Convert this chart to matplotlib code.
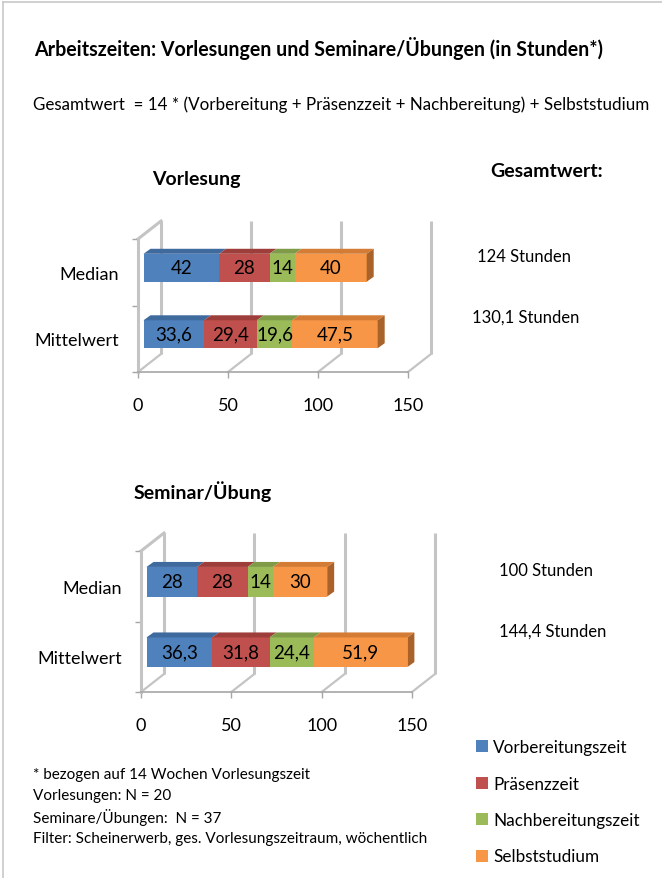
import numpy as np
import matplotlib.pyplot as plt
from matplotlib.patches import Polygon, Patch
from matplotlib.lines import Line2D

plt.rcParams['font.family'] = ['Lato', 'DejaVu Sans']

W, H, DPI = 662, 879, 100

kategorien = ['Mittelwert', 'Median']
teile = ['Vorbereitungszeit', 'Präsenzzeit', 'Nachbereitungszeit', 'Selbststudium']
farben = ['#4F81BD', '#C0504D', '#9BBB59', '#F79646']
farben_oben = ['#3E6A9E', '#9E3E3B', '#7F9B48', '#D47C35']
farben_seite = ['#345A87', '#853431', '#6B843D', '#A9622A']

vorlesung_mittelwert = [33.6, 29.4, 19.6, 47.5]
vorlesung_median = [42, 28, 14, 40]
seminar_mittelwert = [36.3, 31.8, 24.4, 51.9]
seminar_median = [28, 28, 14, 30]
x_ticks = [0, 50, 100, 150]

WAND = '#C4C4C4'


def fmt(v):
    return '{:g}'.format(round(v, 1)).replace('.', ',')


def px_axes(fig, left, top, right, bottom):
    return fig.add_axes([left / W, 1 - bottom / H, (right - left) / W, (bottom - top) / H])


def ftext(fig, x, y, s, **kw):
    kw.setdefault('va', 'center')
    kw.setdefault('ha', 'left')
    return fig.text(x / W, 1 - y / H, s, **kw)


def draw_chart(ax, reihen, wand=(23, 18), versatz=(5.5, 4.5), tiefe=(7, 5), hoehe=0.42):
    ax.set_xlim(0, 150)
    ax.set_ylim(-0.5, 1.5)
    bb = ax.get_position()
    sx = bb.width * W / 150.0
    sy = bb.height * H / 2.0
    wdx, wdy = wand[0] / sx, wand[1] / sy
    vdx, vdy = versatz[0] / sx, versatz[1] / sy
    tdx, tdy = tiefe[0] / sx, tiefe[1] / sy

    # back wall, floor and left wall
    for xt in x_ticks:
        ax.plot([xt + wdx, xt + wdx], [-0.5 + wdy, 1.5 + wdy], color=WAND, lw=2.2,
                clip_on=False, zorder=1, solid_capstyle='butt')
        ax.plot([xt, xt + wdx], [-0.5, -0.5 + wdy], color=WAND, lw=1.6,
                clip_on=False, zorder=1)
    ax.plot([0, wdx], [1.5, 1.5 + wdy], color=WAND, lw=2.2, clip_on=False, zorder=1)

    for i, werte in enumerate(reihen):
        y = i + vdy
        links = 0.0
        for j, w in enumerate(werte):
            ax.barh(y, w, left=links + vdx, height=hoehe, color=farben[j],
                    zorder=3, linewidth=0)
            l, r = links + vdx, links + w + vdx
            t = y + hoehe / 2
            ax.add_patch(Polygon([(l, t), (r, t), (r + tdx, t + tdy), (l + tdx, t + tdy)],
                                 closed=True, fc=farben_oben[j], lw=0, zorder=3,
                                 clip_on=False))
            ax.text(links + w / 2 + vdx, y, fmt(w), ha='center', va='center',
                    fontsize=13.5, zorder=5)
            links += w
        r = links + vdx
        t, b = y + hoehe / 2, y - hoehe / 2
        ax.add_patch(Polygon([(r, b), (r, t), (r + tdx, t + tdy), (r + tdx, b + tdy)],
                             closed=True, fc=farben_seite[-1], lw=0, zorder=3,
                             clip_on=False))

    for s in ['top', 'right']:
        ax.spines[s].set_visible(False)
    ax.spines['left'].set_color(WAND)
    ax.spines['left'].set_linewidth(2.2)
    ax.spines['bottom'].set_color('#A6A6A6')
    ax.spines['bottom'].set_linewidth(1.2)
    ax.set_facecolor('none')

    ax.set_xticks(x_ticks)
    ax.tick_params(axis='x', length=4, width=1, color='#A6A6A6', labelsize=13, pad=14)
    ax.set_yticks([0, 1])
    ax.set_yticklabels(kategorien)
    ax.set_yticks([-0.5, 0.5, 1.5], minor=True)
    ax.tick_params(axis='y', which='major', length=0, labelsize=13, pad=14)
    ax.tick_params(axis='y', which='minor', length=4, width=1, color='#A6A6A6')


fig = plt.figure(figsize=(W / DPI, H / DPI), dpi=DPI)

# frame
fig.add_artist(Line2D([3 / W, 1], [1 - 3 / H, 1 - 3 / H], color='#C8C8C8', lw=1.2))
fig.add_artist(Line2D([3 / W, 3 / W], [0, 1 - 3 / H], color='#C8C8C8', lw=1.2))

ftext(fig, 34, 48, 'Arbeitszeiten: Vorlesungen und Seminare/Übungen (in Stunden*)',
      fontsize=14.1, fontweight='bold')
ftext(fig, 33, 105, 'Gesamtwert  = 14 * (Vorbereitung + Präsenzzeit + Nachbereitung) + Selbststudium',
      fontsize=12.25)

ftext(fig, 152, 180, 'Vorlesung', fontsize=14, fontweight='bold')
ftext(fig, 490, 172, 'Gesamtwert:', fontsize=14, fontweight='bold')
ftext(fig, 134, 492, 'Seminar/Übung', fontsize=14, fontweight='bold')

ax1 = px_axes(fig, 138, 240, 408, 373)
draw_chart(ax1, [vorlesung_mittelwert, vorlesung_median])
ax2 = px_axes(fig, 141, 552, 412, 693)
draw_chart(ax2, [seminar_mittelwert, seminar_median])

ftext(fig, 477, 257, fmt(sum(vorlesung_median)) + ' Stunden', fontsize=12)
ftext(fig, 472, 318, fmt(sum(vorlesung_mittelwert)) + ' Stunden', fontsize=12)
ftext(fig, 499, 571, fmt(sum(seminar_median)) + ' Stunden', fontsize=12)
ftext(fig, 499, 632, fmt(sum(seminar_mittelwert)) + ' Stunden', fontsize=12)

fussnote = ['* bezogen auf 14 Wochen Vorlesungszeit',
            'Vorlesungen: N = 20',
            'Seminare/Übungen:  N = 37',
            'Filter: Scheinerwerb, ges. Vorlesungszeitraum, wöchentlich']
for k, zeile in enumerate(fussnote):
    ftext(fig, 33, 775 + k * 21.3, zeile, fontsize=11)

handles = [Patch(facecolor=c, edgecolor='none') for c in farben]
fig.legend(handles, teile, loc='upper left', bbox_to_anchor=(476 / W, 1 - 740 / H),
           frameon=False, fontsize=12.3, handlelength=0.7, handleheight=0.7,
           handletextpad=0.3, labelspacing=1.2, borderpad=0, borderaxespad=0)

fig.savefig('out.png', dpi=DPI)
